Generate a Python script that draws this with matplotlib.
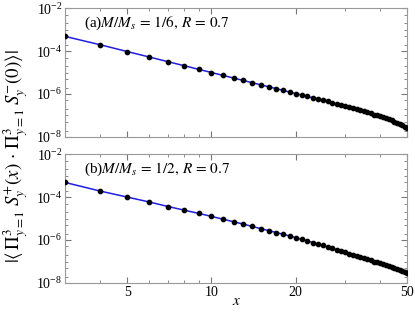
import matplotlib
matplotlib.use("Agg")
import matplotlib.pyplot as plt
from matplotlib.ticker import LogLocator, FixedLocator, NullFormatter
import numpy as np

plt.rcParams['font.family'] = ['Liberation Serif', 'DejaVu Serif']
plt.rcParams['mathtext.fontset'] = 'stix'

# distance x
x = list(range(3, 51))

# (a) M/Ms = 1/6
corr_a = [4.8e-4, 1.97e-4, 9.5e-5, 5.26e-5, 3.19e-5, 2.07e-5, 1.41e-5, 1.00e-5,
          7.35e-6, 5.53e-6, 4.27e-6, 3.35e-6, 2.68e-6, 2.17e-6, 1.79e-6, 1.48e-6,
          1.24e-6, 1.05e-6, 8.98e-7, 7.72e-7, 6.68e-7, 5.82e-7, 5.10e-7, 4.49e-7,
          3.97e-7, 3.52e-7, 3.15e-7, 2.75e-7, 2.45e-7, 2.18e-7, 1.95e-7, 1.75e-7,
          1.56e-7, 1.39e-7, 1.24e-7, 1.11e-7, 1.00e-7, 8.99e-8, 8.11e-8, 7.33e-8,
          6.56e-8, 5.87e-8, 5.22e-8, 4.64e-8, 4.13e-8, 3.61e-8, 3.07e-8, 2.56e-8]

# (b) M/Ms = 1/2
corr_b = [4.79e-4, 1.91e-4, 1.00e-4, 5.89e-5, 3.63e-5, 2.45e-5, 1.74e-5, 1.26e-5,
          9.33e-6, 7.08e-6, 5.50e-6, 4.27e-6, 3.39e-6, 2.75e-6, 2.24e-6, 1.86e-6,
          1.55e-6, 1.29e-6, 1.07e-6, 9.03e-7, 7.66e-7, 6.53e-7, 5.62e-7, 4.80e-7,
          4.12e-7, 3.56e-7, 3.08e-7, 2.69e-7, 2.34e-7, 2.06e-7, 1.81e-7, 1.60e-7,
          1.41e-7, 1.26e-7, 1.12e-7, 1.00e-7, 9.02e-8, 8.13e-8, 7.35e-8, 6.65e-8,
          6.04e-8, 5.50e-8, 5.01e-8, 4.54e-8, 4.10e-8, 3.70e-8, 3.33e-8, 3.02e-8]

labels = [r'(a)$M/M_s\,=\,1/6,\,R\,=\,0.7$', r'(b)$M/M_s\,=\,1/2,\,R\,=\,0.7$']
xticks = [5, 10, 20, 50]

fig = plt.figure(figsize=(4.15, 3.12), dpi=100)
ax1 = fig.add_axes([0.157, 0.561, 0.824, 0.413])
ax2 = fig.add_axes([0.157, 0.093, 0.824, 0.413])

for ax, y, lab in zip([ax1, ax2], [corr_a, corr_b], labels):
    ax.plot(x, y, '-', color='#1f1fe0', lw=1.1, zorder=2)
    ax.plot(x, y, 'o', color='black', ms=3.1, zorder=3)
    ax.set_xscale('log')
    ax.set_yscale('log')
    ax.set_xlim(3, 50)
    ax.set_ylim(1e-8, 1e-2)
    ax.yaxis.set_major_locator(FixedLocator([1e-8, 1e-6, 1e-4, 1e-2]))
    ax.yaxis.set_minor_locator(LogLocator(base=10, subs=(1.0, 2.0, 5.0), numticks=20))
    ax.yaxis.set_minor_formatter(NullFormatter())
    ax.xaxis.set_major_locator(FixedLocator(xticks))
    ax.xaxis.set_minor_locator(FixedLocator([4, 6, 7, 8, 9, 30, 40]))
    ax.xaxis.set_minor_formatter(NullFormatter())
    ax.tick_params(which='both', direction='in', top=True, right=True,
                   labelsize=10, color='#777777', pad=2)
    ax.tick_params(which='major', length=4)
    ax.tick_params(which='minor', length=2)
    for s in ax.spines.values():
        s.set_color('#999999')
        s.set_linewidth(0.8)
    ax.text(0.055, 0.88, lab, transform=ax.transAxes, fontsize=11, va='center')

ax1.set_xticklabels([])
ax2.set_xticklabels([str(v) for v in xticks])
ax2.set_xlabel(r'$x$', fontsize=11, labelpad=-3)

fig.text(0.038, 0.5,
         r'$|\langle\,\Pi_{y=1}^{3}\;S_y^{+}(x)\,\cdot\,\Pi_{y=1}^{3}\;S_y^{-}(0)\rangle|$',
         rotation=90, va='center', ha='center', fontsize=13.5)

fig.savefig('out.png', dpi=100)
